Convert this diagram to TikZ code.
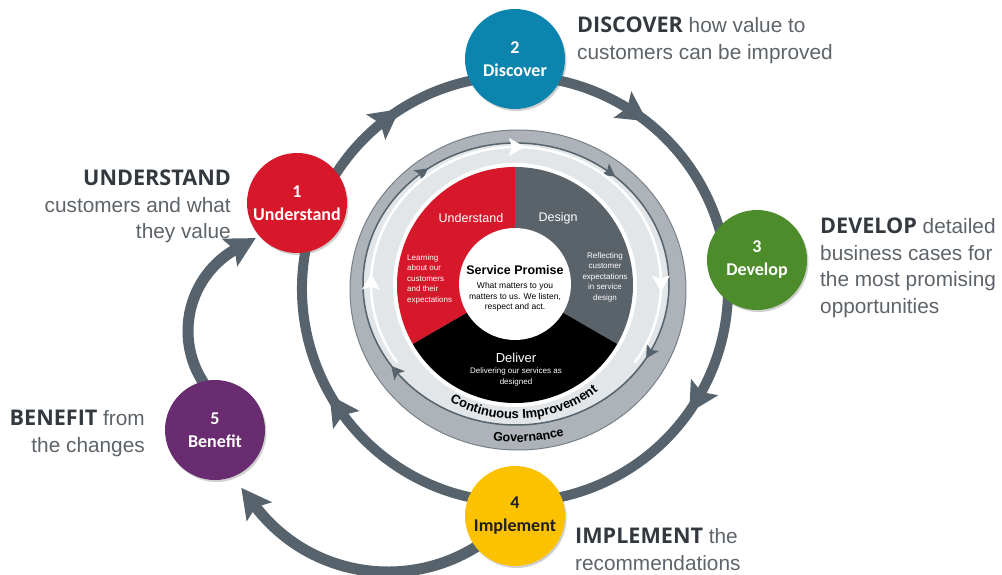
\documentclass[tikz,border=0pt]{standalone}
\usepackage{fontspec}
\setmainfont{Liberation Sans}
\newfontfamily\calfont{Carlito}
\newfontfamily\osfont{Open Sans}
\usetikzlibrary{decorations.markings,decorations.text,shadows}
\definecolor{ringc}{HTML}{56626C}
\definecolor{redc}{HTML}{D7182A}
\definecolor{bluec}{HTML}{0B84AE}
\definecolor{greenc}{HTML}{4C8C2B}
\definecolor{yellowc}{HTML}{FCC200}
\definecolor{purplec}{HTML}{6A2C70}
\definecolor{segc}{HTML}{5B636A}
\definecolor{govc}{HTML}{ADB3B8}
\definecolor{lightc}{HTML}{E3E6E8}
\definecolor{labdark}{HTML}{33393F}
\definecolor{labgray}{HTML}{5E6469}
\newcommand\bigtip{\fill[ringc] (16,0) -- (-14,16) -- (-8,0) -- (-14,-16) -- cycle;}
\newcommand\lasttip{\fill[ringc] (22,0) -- (-8,16) -- (-2,0) -- (-8,-16) -- cycle;}
\newcommand\smalltip{\fill[ringc] (7,0) -- (-6,7) -- (-3,0) -- (-6,-7) -- cycle;}
\newcommand\whitetip{\fill[white] (9,0) -- (-7,9) -- (-4,0) -- (-7,-9) -- cycle;}
\newcommand\hd[1]{{\osfont\bfseries\fontsize{21.6}{26.5}\selectfont\color{labdark}#1}}
\begin{document}
\begin{tikzpicture}[x=1pt,y=1pt,
 stepnode/.style={circle, minimum size=100pt, inner sep=0pt, align=center, text=white,
   font=\calfont\bfseries\fontsize{18}{23}\selectfont,
   drop shadow={opacity=0.3, shadow xshift=1.5pt, shadow yshift=-2pt, fill=black!60}},
 lab/.style={inner sep=0pt, text=labgray, font=\fontsize{20.8}{26.5}\selectfont},
 ringline/.style={draw=ringc, line width=10pt},
 arcline/.style={draw=ringc, line width=11pt},
 segtext/.style={text=white, inner sep=0pt, align=center},
]
\useasboundingbox (0,0) rectangle (1002,-575);
\fill[white] (0,0) rectangle (1002,-575);

\coordinate (O) at (515,-289);
\coordinate (W) at (516,-284);
\coordinate (G) at (518,-290);
\coordinate (S) at (515,-285);

% big outer ring with arrowheads
\begin{scope}[shift={(O)}]
\draw[ringline, postaction={decorate}, decoration={markings,
  mark=at position 0.064 with {\bigtip},
  mark=at position 0.261 with {\bigtip},
  mark=at position 0.503 with {\bigtip},
  mark=at position 0.822 with {\bigtip}}]
  (150:213) arc[start angle=150, end angle=-210, radius=213];
\end{scope}

% arc Implement -> Benefit
\begin{scope}[shift={(388,-405)}]
\draw[arcline] (-55:167) arc[start angle=-55, end angle=-143, radius=167];
\coordinate (eE) at (-143:167);
\end{scope}
\begin{scope}[shift={(eE)}, rotate=127] \lasttip \end{scope}

% arc Benefit -> Understand
\begin{scope}[shift={(282,-331)}]
\draw[arcline] (216:94) arc[start angle=216, end angle=119, radius=94];
\coordinate (eF) at (119:94);
\end{scope}
\begin{scope}[shift={(eF)}, rotate=29] \lasttip \end{scope}

% wheel rings
\filldraw[fill=govc, draw=ringc!80, line width=1pt] (G) ellipse [x radius=168, y radius=160];
\filldraw[fill=lightc, draw=ringc, line width=1.5pt] (W) ellipse [x radius=153, y radius=141];
\begin{scope}[shift={(W)}]
\path[postaction={decorate}, decoration={markings,
  mark=at position 0.142 with {\smalltip},
  mark=at position 0.358 with {\smalltip},
  mark=at position 0.578 with {\smalltip},
  mark=at position 0.897 with {\smalltip}}]
  (180:153 and 141) arc[start angle=180, end angle=-180, x radius=153, y radius=141];
\draw[white, line width=2.5pt, postaction={decorate}, decoration={markings,
  mark=at position 0.14 with {\whitetip},
  mark=at position 0.5 with {\whitetip},
  mark=at position 0.86 with {\whitetip}}]
  (215:145 and 137) arc[start angle=215, end angle=-35, x radius=145, y radius=137];
\path[decorate, decoration={text along path, text align=center,
  text={|\bfseries\fontsize{13}{13}\selectfont|Continuous Improvement}}]
  (224:135 and 135) arc[start angle=224, end angle=324, x radius=135, y radius=135];
\end{scope}
\begin{scope}[shift={(G)}]
\path[decorate, decoration={text along path, text align=center,
  text={|\bfseries\fontsize{12.5}{12.5}\selectfont|Governance}}]
  (249:155 and 152) arc[start angle=249, end angle=299, x radius=155, y radius=152];
\end{scope}

% segments
\fill[white] (S) circle[radius=122];
\fill[redc] (S) -- ++(90:118) arc[start angle=90, end angle=210, radius=118] -- cycle;
\fill[segc] (S) -- ++(-30:118) arc[start angle=-30, end angle=90, radius=118] -- cycle;
\fill[black] (S) -- ++(210:118) arc[start angle=210, end angle=330, radius=118] -- cycle;
\node[circle, fill=white, minimum size=112pt, inner sep=0pt] (core) at (515,-284) {};

\node[font=\bfseries\fontsize{12.5}{14}\selectfont, inner sep=0pt] (sp) at (515,-270) {Service Promise};
\node[font=\fontsize{8.5}{10.3}\selectfont, align=center, inner sep=0pt] (spt) at (515,-297) {What matters to you\\matters to us. We listen,\\respect and act.};
\node[segtext, font=\fontsize{12.5}{14}\selectfont] (u) at (471,-218) {Understand};
\node[segtext, font=\fontsize{12.5}{14}\selectfont] (d) at (558,-218) {Design};
\node[segtext, font=\fontsize{8}{10.5}\selectfont, align=left, anchor=west] (ut) at (407,-279) {Learning\\about our\\customers\\and their\\expectations};
\node[segtext, font=\fontsize{8}{10.5}\selectfont] (dt) at (605,-277) {Reflecting\\customer\\expectations\\in service\\design};
\node[segtext, font=\fontsize{13}{15}\selectfont] (dl) at (516,-358) {Deliver};
\node[segtext, font=\fontsize{8}{10.5}\selectfont] (dlt) at (516,-377) {Delivering our services as\\designed};

% step circles
\node[stepnode, fill=redc] (n1) at (297,-203) {1\\Understand};
\node[stepnode, fill=bluec] (n2) at (515,-59) {2\\Discover};
\node[stepnode, fill=greenc] (n3) at (757,-260) {3\\Develop};
\node[stepnode, fill=yellowc, text=black!88] (n4) at (515,-516) {4\\Implement};
\node[stepnode, fill=purplec] (n5) at (215,-430) {5\\Benefit};

% labels
\node[lab, anchor=north east, align=right] (l1) at (231,-170) {\hd{UNDERSTAND}\\customers and what\\they value};
\node[lab, anchor=north west, align=left] (l2) at (577,-17) {\hd{DISCOVER} how value to\\customers can be improved};
\node[lab, anchor=north west, align=left] (l3) at (820,-218) {\hd{DEVELOP} detailed\\business cases for\\the most promising\\opportunities};
\node[lab, anchor=north west, align=left] (l4) at (575,-528) {\hd{IMPLEMENT} the\\recommendations};
\node[lab, anchor=north east, align=right] (l5) at (145,-410) {\hd{BENEFIT} from\\the changes};
\end{tikzpicture}
\end{document}
